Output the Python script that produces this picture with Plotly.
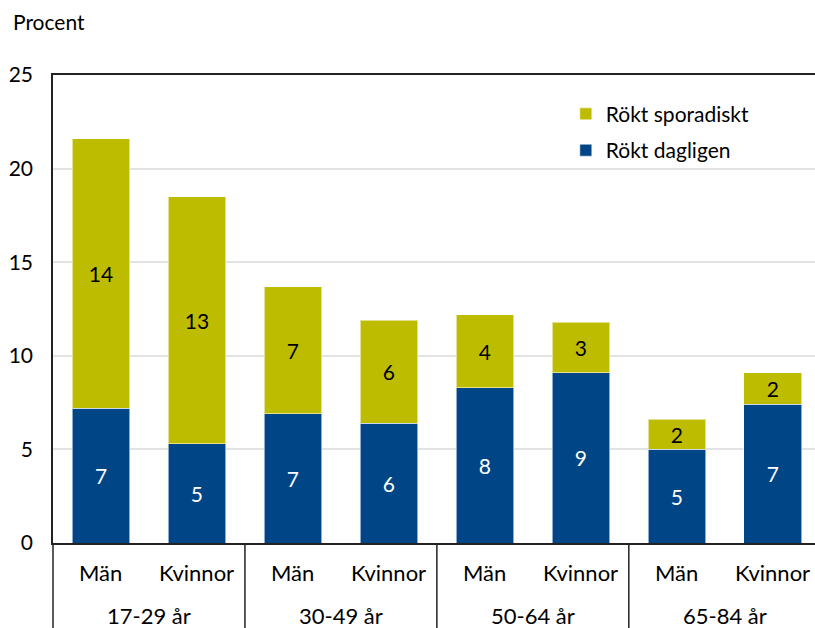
import plotly.graph_objects as go

categories = ["Män", "Kvinnor", "Män", "Kvinnor", "Män", "Kvinnor", "Män", "Kvinnor"]
age_groups = ["17-29 år", "30-49 år", "50-64 år", "65-84 år"]
dagligen = [7.2, 5.3, 6.9, 6.4, 8.3, 9.1, 5.0, 7.4]
sporadiskt = [14.4, 13.2, 6.8, 5.5, 3.9, 2.7, 1.6, 1.7]
y_ticks = [0, 5, 10, 15, 20, 25]

BLUE = "#004687"
OLIVE = "#BEBC00"
FONT = "Lato"
FS = 21

x = list(range(len(categories)))

fig = go.Figure()
fig.add_trace(go.Bar(
    x=x, y=dagligen, name="Rökt dagligen", marker_color=BLUE,
    marker_line=dict(color="rgba(255,255,255,0.55)", width=1),
    width=0.6, texttemplate="%{y:.0f}", textposition="inside",
    insidetextanchor="middle", textangle=0, legendgroup="d", legendrank=2,
    textfont=dict(color="white", size=FS, family=FONT),
))
fig.add_trace(go.Bar(
    x=x, y=sporadiskt, name="Rökt sporadiskt", marker_color=OLIVE,
    marker_line=dict(color="rgba(255,255,255,0.55)", width=1),
    width=0.6, texttemplate="%{y:.0f}", textposition="inside",
    insidetextanchor="middle", textangle=0, legendgroup="s", legendrank=1,
    textfont=dict(color="black", size=FS, family=FONT),
))

annotations = []
for i, c in enumerate(categories):
    annotations.append(dict(x=i, y=-0.062, xref="x", yref="paper", text=c,
                            showarrow=False, font=dict(size=22, family=FONT, color="black"),
                            xanchor="center", yanchor="middle"))
for g, a in enumerate(age_groups):
    annotations.append(dict(x=2 * g + 0.5, y=-0.154, xref="x", yref="paper", text=a,
                            showarrow=False, font=dict(size=22, family=FONT, color="black"),
                            xanchor="center", yanchor="middle"))
annotations.append(dict(x=-42 / 762, y=1.0 + 53 / 468, xref="paper", yref="paper",
                        text="Procent", showarrow=False, xanchor="left", yanchor="middle",
                        font=dict(size=FS, family=FONT, color="black")))

shapes = []
for b in [1.5, 3.5, 5.5]:
    shapes.append(dict(type="line", xref="x", yref="paper", x0=b, x1=b, y0=0, y1=-0.2,
                       line=dict(color="#222", width=1.5)))
shapes.append(dict(type="line", xref="paper", yref="paper", x0=0, x1=0, y0=0, y1=-0.2,
                   line=dict(color="#222", width=1.5)))

fig.update_layout(
    width=815, height=628,
    margin=dict(l=53, r=0, t=75, b=85, autoexpand=False),
    plot_bgcolor="white", paper_bgcolor="white",
    barmode="stack", bargap=0.4,
    font=dict(family=FONT, size=FS, color="black"),
    uniformtext=dict(minsize=FS, mode="show"),
    showlegend=True,
    xaxis=dict(range=[-0.5, 7.44], showticklabels=False, showgrid=False, zeroline=False,
               showline=True, mirror=True, linecolor="#222", linewidth=1.5, ticks="",
               automargin=False),
    yaxis=dict(range=[0, 25], tickvals=y_ticks, showgrid=True, gridcolor="#e3e3e3",
               gridwidth=1.5, zeroline=False, showline=True, linecolor="#222", linewidth=1.5,
               ticks="", ticklabelstandoff=14, tickfont=dict(size=FS, family=FONT),
               automargin=False),
    legend=dict(x=0.673, y=0.96, xanchor="left", yanchor="top", bgcolor="rgba(0,0,0,0)",
                traceorder="grouped", tracegroupgap=6, itemwidth=30,
                font=dict(size=FS, family=FONT)),
    annotations=annotations, shapes=shapes,
)

fig.write_html("out.html", config={"displayModeBar": False},
               post_script="document.body.style.margin='0';document.body.style.padding='0';")
